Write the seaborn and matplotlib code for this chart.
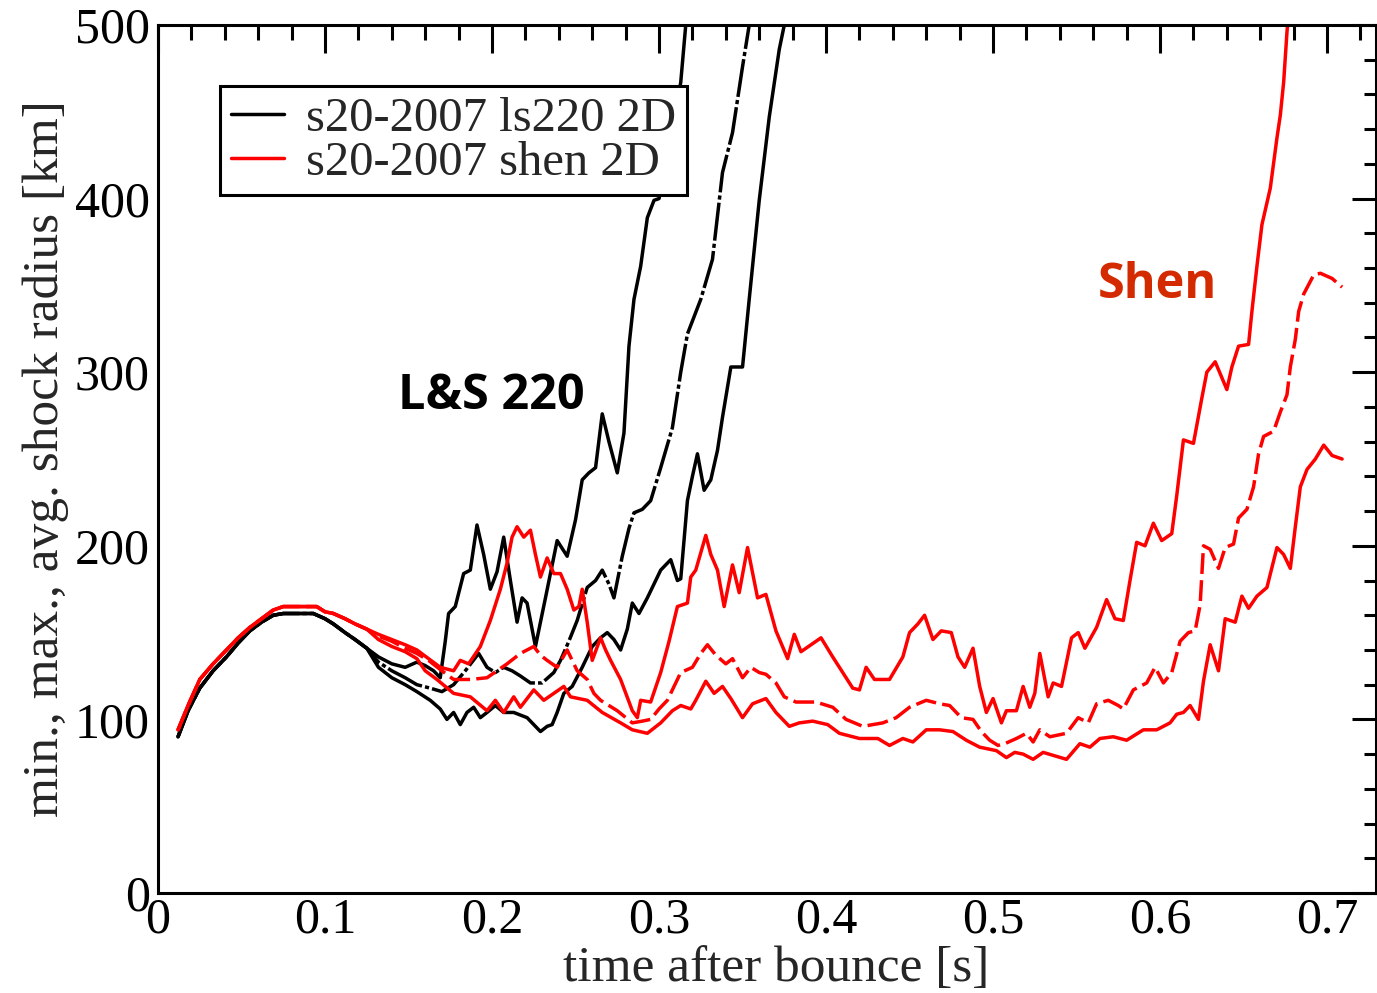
import numpy as np
import pandas as pd
import matplotlib
matplotlib.use("Agg")
import matplotlib.pyplot as plt
from matplotlib.lines import Line2D
from matplotlib.ticker import MultipleLocator, FuncFormatter
import seaborn as sns

# ---------------------------------------------------------------------------
# Shock radius evolution (time after bounce [s], radius [km])
# ---------------------------------------------------------------------------
# Shared early phase of the LS220 runs
t_ls_early = [0.012, 0.018, 0.025, 0.033, 0.041, 0.048, 0.055, 0.062, 0.069,
              0.075, 0.085, 0.093, 0.100, 0.105, 0.112, 0.118, 0.125]
r_ls_early = [90, 105, 118, 128, 136, 144, 151, 156, 160,
              161, 161, 161, 158, 155, 150, 146, 141]

t_ls_max = [0.132, 0.140, 0.148, 0.155, 0.160, 0.165, 0.169, 0.172, 0.174, 0.178,
            0.183, 0.187, 0.191, 0.195, 0.199, 0.203, 0.207, 0.211, 0.215, 0.218,
            0.221, 0.226, 0.232, 0.239, 0.245, 0.250, 0.254, 0.258, 0.262, 0.266,
            0.270, 0.275, 0.279, 0.282, 0.285, 0.289, 0.293, 0.297, 0.300, 0.305,
            0.310, 0.313, 0.316, 0.318]
r_ls_max = [136, 132, 130, 133, 131, 128, 124, 145, 161, 165,
            184, 186, 212, 195, 175, 185, 205, 180, 156, 170,
            167, 142, 170, 203, 194, 215, 238, 242, 245, 276,
            260, 242, 265, 315, 342, 361, 389, 399, 400, 425,
            450, 467, 500, 520]

t_ls_avg = [0.132, 0.140, 0.148, 0.155, 0.163, 0.170, 0.177, 0.184, 0.192, 0.197,
            0.202, 0.207, 0.212, 0.217, 0.223, 0.230, 0.237, 0.241, 0.246, 0.251,
            0.257, 0.262, 0.266, 0.270, 0.273, 0.278, 0.282, 0.285, 0.290, 0.295,
            0.301, 0.308, 0.313, 0.317, 0.325, 0.332, 0.338, 0.344, 0.350, 0.354,
            0.356]
r_ls_avg = [133, 128, 124, 120, 118, 116, 120, 128, 138, 130,
            127, 130, 128, 125, 121, 121, 127, 134, 145, 157,
            176, 180, 186, 178, 170, 194, 210, 219, 221, 226,
            245, 268, 300, 322, 342, 365, 415, 438, 476, 500,
            515]

t_ls_min = [0.132, 0.140, 0.148, 0.155, 0.163, 0.169, 0.173, 0.177, 0.181, 0.185,
            0.189, 0.193, 0.197, 0.202, 0.207, 0.213, 0.221, 0.226, 0.229, 0.233,
            0.236, 0.239, 0.243, 0.248, 0.254, 0.260, 0.265, 0.269, 0.273, 0.277,
            0.281, 0.284, 0.288, 0.293, 0.301, 0.307, 0.311, 0.313, 0.317, 0.320,
            0.323, 0.327, 0.331, 0.335, 0.338, 0.343, 0.350, 0.354, 0.360, 0.366,
            0.372, 0.375, 0.377]
r_ls_min = [130, 124, 120, 116, 111, 106, 100, 104, 97, 104,
            107, 101, 104, 108, 104, 104, 101, 96, 93, 96,
            97, 104, 115, 119, 130, 142, 147, 150, 146, 140,
            152, 167, 161, 170, 186, 192, 180, 181, 226, 240,
            253, 232, 238, 255, 274, 303, 303, 342, 399, 447,
            486, 500, 515]

# Shared early phase of the Shen runs
t_sh_early = [0.012, 0.018, 0.025, 0.033, 0.041, 0.048, 0.055, 0.062, 0.069,
              0.075, 0.085, 0.095, 0.100, 0.105, 0.112, 0.118, 0.125]
r_sh_early = [94, 108, 123, 132, 140, 147, 153, 158, 163,
              165, 165, 165, 162, 161, 158, 155, 152]

t_sh_max = [0.132, 0.140, 0.148, 0.155, 0.162, 0.169, 0.177, 0.181, 0.186, 0.193,
            0.199, 0.205, 0.209, 0.212, 0.215, 0.219, 0.223, 0.226, 0.229, 0.233,
            0.237, 0.241, 0.245, 0.249, 0.252, 0.254, 0.257, 0.260, 0.265, 0.268,
            0.271, 0.277, 0.284, 0.287, 0.289, 0.295, 0.301, 0.306, 0.311, 0.317,
            0.319, 0.322, 0.328, 0.331, 0.335, 0.339, 0.344, 0.348, 0.353, 0.359,
            0.364, 0.370, 0.377, 0.381, 0.385, 0.391, 0.397, 0.404, 0.410, 0.416,
            0.420, 0.424, 0.429, 0.438, 0.446, 0.450, 0.455, 0.459, 0.464, 0.469,
            0.475, 0.479, 0.483, 0.488, 0.492, 0.496, 0.500, 0.505, 0.508, 0.514,
            0.518, 0.522, 0.525, 0.528, 0.533, 0.536, 0.541, 0.547, 0.551, 0.555,
            0.562, 0.568, 0.573, 0.578, 0.582, 0.586, 0.591, 0.596, 0.601, 0.607,
            0.610, 0.614, 0.620, 0.625, 0.628, 0.633, 0.640, 0.643, 0.647, 0.653,
            0.655, 0.658, 0.661, 0.666, 0.670, 0.672, 0.674, 0.676, 0.678]
r_sh_max = [149, 146, 143, 140, 135, 130, 128, 134, 132, 142,
            157, 175, 190, 205, 211, 205, 209, 195, 182, 193,
            184, 184, 175, 163, 165, 175, 156, 134, 147, 140,
            134, 123, 105, 101, 111, 110, 127, 145, 165, 167,
            182, 186, 206, 195, 186, 165, 189, 173, 199, 170,
            172, 151, 135, 149, 139, 143, 147, 136, 127, 118,
            117, 130, 123, 123, 136, 150, 155, 160, 146, 151,
            150, 136, 130, 141, 119, 104, 112, 98, 105, 105,
            119, 107, 115, 138, 113, 121, 119, 147, 150, 141,
            153, 169, 158, 157, 180, 202, 200, 213, 203, 207,
            229, 261, 259, 285, 300, 306, 290, 303, 315, 316,
            335, 361, 385, 406, 435, 448, 467, 496, 520]

t_sh_avg = [0.132, 0.140, 0.148, 0.155, 0.162, 0.170, 0.177, 0.187, 0.197, 0.203,
            0.209, 0.217, 0.225, 0.229, 0.233, 0.239, 0.245, 0.251, 0.257, 0.261,
            0.265, 0.270, 0.275, 0.284, 0.290, 0.295, 0.300, 0.305, 0.313, 0.320,
            0.325, 0.329, 0.334, 0.340, 0.344, 0.350, 0.355, 0.360, 0.364, 0.370,
            0.375, 0.382, 0.394, 0.404, 0.412, 0.422, 0.434, 0.442, 0.450, 0.460,
            0.468, 0.474, 0.481, 0.488, 0.493, 0.498, 0.503, 0.507, 0.514, 0.520,
            0.524, 0.528, 0.534, 0.539, 0.544, 0.551, 0.557, 0.562, 0.569, 0.575,
            0.578, 0.584, 0.592, 0.597, 0.602, 0.607, 0.612, 0.617, 0.621, 0.624,
            0.626, 0.630, 0.635, 0.639, 0.644, 0.647, 0.652, 0.656, 0.659, 0.662,
            0.668, 0.672, 0.676, 0.678, 0.681, 0.683, 0.686, 0.692, 0.696, 0.703,
            0.709]
r_sh_avg = [148, 145, 141, 138, 134, 128, 123, 123, 124, 128,
            132, 138, 142, 137, 134, 130, 140, 128, 123, 115,
            111, 108, 105, 98, 99, 100, 106, 111, 127, 130,
            138, 143, 137, 132, 135, 124, 130, 127, 126, 121,
            113, 110, 110, 107, 100, 96, 98, 101, 107, 111,
            109, 108, 101, 100, 93, 88, 85, 86, 89, 92,
            87, 94, 90, 91, 92, 101, 98, 109, 111, 108,
            106, 117, 121, 130, 121, 127, 145, 150, 151, 166,
            200, 198, 187, 199, 201, 216, 221, 234, 253, 263,
            266, 277, 287, 303, 319, 335, 345, 356, 357, 354,
            349]

t_sh_min = [0.132, 0.140, 0.148, 0.155, 0.160, 0.167, 0.177, 0.187, 0.197, 0.202,
            0.207, 0.213, 0.217, 0.225, 0.231, 0.237, 0.243, 0.247, 0.257, 0.266,
            0.277, 0.284, 0.293, 0.301, 0.308, 0.313, 0.319, 0.322, 0.328, 0.333,
            0.338, 0.343, 0.350, 0.356, 0.364, 0.370, 0.378, 0.384, 0.392, 0.401,
            0.408, 0.420, 0.431, 0.438, 0.446, 0.452, 0.460, 0.468, 0.476, 0.484,
            0.492, 0.502, 0.508, 0.513, 0.518, 0.524, 0.530, 0.537, 0.544, 0.552,
            0.558, 0.564, 0.572, 0.580, 0.590, 0.598, 0.606, 0.610, 0.614, 0.618,
            0.623, 0.626, 0.630, 0.635, 0.639, 0.645, 0.649, 0.653, 0.658, 0.664,
            0.670, 0.674, 0.678, 0.681, 0.684, 0.688, 0.693, 0.698, 0.703, 0.709]
r_sh_min = [146, 142, 139, 135, 128, 123, 115, 113, 105, 111,
            104, 113, 107, 117, 111, 115, 119, 113, 111, 104,
            98, 94, 92, 98, 105, 108, 106, 111, 122, 115,
            119, 112, 101, 109, 112, 104, 96, 98, 99, 97,
            92, 89, 89, 85, 89, 87, 94, 94, 93, 88,
            84, 82, 78, 81, 80, 77, 81, 79, 77, 86,
            84, 89, 90, 88, 94, 94, 98, 103, 104, 108,
            100, 122, 143, 128, 158, 156, 171, 164, 171, 176,
            199, 195, 187, 211, 234, 244, 250, 258, 252, 250]

legend_labels = ["s20-2007 ls220 2D", "s20-2007 shen 2D"]

# ---------------------------------------------------------------------------
sns.set_style("white")
plt.rcParams["font.family"] = ["Liberation Serif", "DejaVu Serif"]

fig = plt.figure(figsize=(13.77, 9.93), dpi=100)
ax = fig.add_axes([158 / 1377, 1 - 893 / 993, 1218 / 1377, 868 / 993])

BLACK = "#000000"
RED = "#ff0000"
LW = 2.5
ls_avg_black = (0, (11, 0.9, 1.2, 0.9))
ls_avg_red = (0, (6, 1.8))


def draw(t_early, r_early, t, r, color, style):
    df = pd.DataFrame({"t": list(t_early) + list(t),
                       "r": list(r_early) + list(r)})
    sns.lineplot(data=df, x="t", y="r", ax=ax, color=color, linewidth=LW,
                 linestyle=style, estimator=None, sort=False, legend=False)


draw(t_ls_early, r_ls_early, t_ls_max, r_ls_max, BLACK, "-")
draw(t_ls_early, r_ls_early, t_ls_avg, r_ls_avg, BLACK, ls_avg_black)
draw(t_ls_early, r_ls_early, t_ls_min, r_ls_min, BLACK, "-")
draw(t_sh_early, r_sh_early, t_sh_max, r_sh_max, RED, "-")
draw(t_sh_early, r_sh_early, t_sh_avg, r_sh_avg, RED, ls_avg_red)
draw(t_sh_early, r_sh_early, t_sh_min, r_sh_min, RED, "-")

ax.set_xlim(0, 0.7293)
ax.set_ylim(0, 500)

ax.xaxis.set_major_locator(MultipleLocator(0.1))
ax.xaxis.set_minor_locator(MultipleLocator(0.02))
ax.yaxis.set_major_locator(MultipleLocator(100))
ax.yaxis.set_minor_locator(MultipleLocator(20))
ax.xaxis.set_major_formatter(FuncFormatter(lambda v, p: "0" if abs(v) < 1e-9 else f"{v:g}"))
ax.yaxis.set_major_formatter(FuncFormatter(lambda v, p: f"{v:.0f}"))

ax.tick_params(axis="both", which="both", direction="in", top=True, right=True,
               width=2.2, colors="black")
ax.tick_params(axis="x", which="major", length=20, pad=3, labelsize=36)
ax.tick_params(axis="x", which="minor", length=11)
ax.tick_params(axis="y", which="major", length=17, pad=6, labelsize=36)
ax.tick_params(axis="y", which="minor", length=8.5)

for sp in ax.spines.values():
    sp.set_linewidth(2.2)
    sp.set_color("black")
    sp.set_visible(True)

ax.set_xlabel("time after bounce [s]", fontsize=37)
ax.xaxis.set_label_coords((776 - 158) / 1218, -0.060)
ax.set_ylabel("min., max., avg. shock radius [km]", fontsize=37, labelpad=4)

handles = [Line2D([], [], color=BLACK, linewidth=LW),
           Line2D([], [], color=RED, linewidth=LW)]
leg = ax.legend(handles, legend_labels, loc="upper left",
                bbox_to_anchor=((220 - 158) / 1218, (893 - 86) / 868),
                borderaxespad=0, fontsize=35, frameon=True, fancybox=False,
                handlelength=1.1, handletextpad=0.45, borderpad=0.22,
                labelspacing=0.0, edgecolor="black")
leg.get_frame().set_linewidth(2.2)
leg.get_frame().set_alpha(1)

ax.text(0.1437, 278.8, "L&S 220", fontsize=35, fontweight="bold",
        family=["Open Sans", "DejaVu Sans"], color="black", va="baseline", ha="left")
ax.text(0.5629, 343.0, "Shen", fontsize=35, fontweight="bold",
        family=["Open Sans", "DejaVu Sans"], color="#d42a00", va="baseline", ha="left")

fig.savefig("out.png", dpi=100)
